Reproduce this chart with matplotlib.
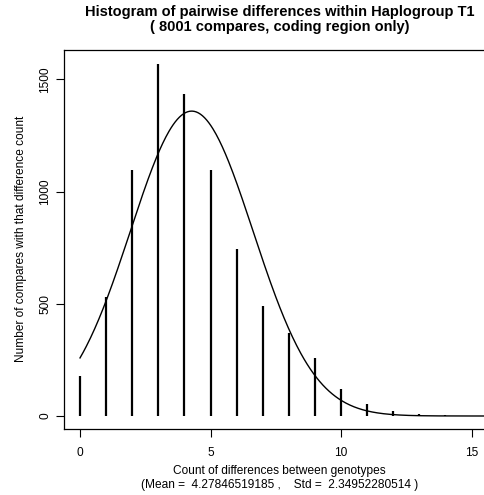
import numpy as np
import matplotlib
matplotlib.use("Agg")
import matplotlib.pyplot as plt

plt.rcParams['font.family'] = ['Liberation Sans', 'DejaVu Sans']

# counts of pairwise differences
diff_counts = [0, 1, 2, 3, 4, 5, 6, 7, 8, 9, 10, 11, 12, 13, 14, 15]
n_compares = [178, 528, 1098, 1570, 1436, 1098, 744, 488, 372, 260, 122, 52, 22, 10, 4, 2]

# fitted normal stated under the x axis
total = 8001
mean = 4.27846519185
std = 2.34952280514

x_ticks = [0, 5, 10, 15]
y_ticks = [0, 500, 1000, 1500]


def plot_histogram(output_image):
    fig = plt.figure(figsize=(4.85, 4.95), dpi=100)
    ax = fig.add_axes([0.132, 0.1333, 0.8887, 0.7667])

    # vertical "h" style bars
    ax.vlines(diff_counts, 0, n_compares, color='black', linewidth=1.6)

    # normal curve scaled to the number of compares
    xs = np.linspace(0, 16, 400)
    ys = total * np.exp(-(xs - mean) ** 2 / (2 * std ** 2)) / (std * np.sqrt(2 * np.pi))
    ax.plot(xs, ys, color='black', linewidth=1.0)

    ax.set_xlim(-0.613, 15.9)
    ax.set_ylim(-58, 1633)
    ax.set_xticks(x_ticks)
    ax.set_yticks(y_ticks)
    ax.set_yticklabels([str(v) for v in y_ticks], rotation=90, va='center')
    ax.tick_params(axis='both', length=6, width=0.8, labelsize=8.6)
    ax.tick_params(axis='x', pad=7)
    ax.tick_params(axis='y', pad=3)

    for s in ax.spines.values():
        s.set_linewidth(0.9)

    ax.set_title("Histogram of pairwise differences within Haplogroup T1\n( 8001 compares, coding region only)",
                 fontsize=10.5, fontweight='bold', pad=13, linespacing=1.15)
    ax.set_xlabel("Count of differences between genotypes\n"
                  "(Mean =  4.27846519185 ,    Std =  2.34952280514 )",
                  fontsize=8.6, labelpad=4, linespacing=1.3)
    ax.set_ylabel("Number of compares with that difference count", fontsize=8.6, labelpad=9)

    fig.savefig(output_image, dpi=100)
    plt.close(fig)


if __name__ == '__main__':
    plot_histogram('out.png')
